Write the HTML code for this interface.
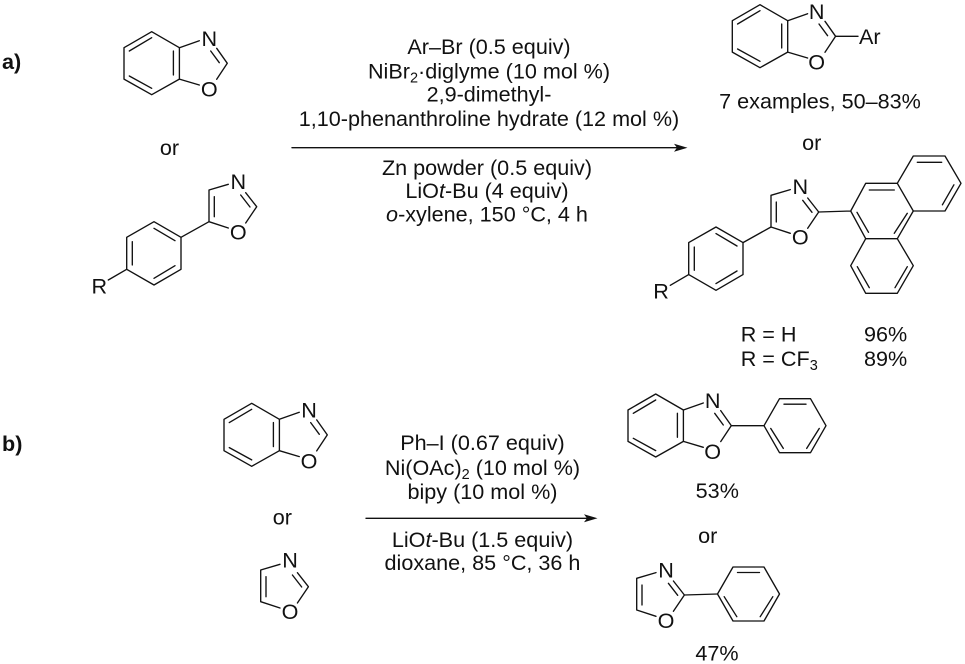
<!DOCTYPE html>
<html><head><meta charset="utf-8"><style>
html,body{margin:0;padding:0;background:#fff}
svg{display:block}
text{font-family:"Liberation Sans",sans-serif;font-size:21.6px;fill:#111}
.m{text-anchor:middle}
.s{font-size:14.5px}
.b{stroke:#111;stroke-width:1.35;fill:none;stroke-linecap:round;stroke-linejoin:round}
</style></head><body>
<svg width="965" height="664" viewBox="0 0 965 664" xmlns="http://www.w3.org/2000/svg">
<defs>
<g id="bx" class="b">
<path d="M0 0L27.7 16L27.7 47.4L0 63L-27.7 47.4L-27.7 16Z"/>
<path d="M-22.4 19.3L0 6M-22.4 44.3L0 56.6M21.7 19.3L21.7 43.3"/>
<path d="M27.7 16L47.6 9M27.7 47.4L47.6 53.3M65 16.6L75.6 31.6L65 47.6M59 19.3L67.6 31"/>
</g>
<g id="ox" class="b">
<path d="M228.3 184.3L209 190L209 221.7L228.3 228M245.7 192.7L256.7 206.7L245.7 223M214.3 196.7L214.3 216.7M240.7 195L250 207"/>
</g>
<g id="ph" class="b">
<path d="M-31 0L-15.5 -27L15.5 -27L31 0L15.5 27L-15.5 27Z"/>
<path d="M-11 -21.5L11 -21.5M-24.3 2.7L-11.7 22.7M24.3 2.7L11.7 22.7"/>
</g>
<g id="rph" class="b">
<path d="M154 221.7L181 237.3L181 269.3L154 285L126.7 269.3L126.7 237.3Z"/>
<path d="M154 228.3L175 240.7M132.3 241.7L132.3 265M154 278.3L175 265.7"/>
<path d="M181 237.3L209 221.7M126.7 269.3L108.3 280"/>
</g>
</defs>

<!-- a left -->
<use href="#bx" x="151.7" y="31.7"/>
<text class="m" x="209.3" y="46">N</text>
<text class="m" x="209.3" y="96.5">O</text>
<text class="m" x="169.5" y="155">or</text>
<use href="#ox"/>
<use href="#rph"/>
<text class="m" x="238.3" y="189">N</text>
<text class="m" x="238.3" y="239.5">O</text>
<text class="m" x="99.3" y="293.5">R</text>

<!-- a right -->
<use href="#bx" x="760" y="4.7"/>
<path class="b" d="M835.6 36.3L858 36.3"/>
<text class="m" x="816.7" y="19">N</text>
<text class="m" x="816.7" y="69.5">O</text>
<text x="859" y="44">Ar</text>
<text class="m" x="820" y="108.3">7 examples, 50–83%</text>
<text class="m" x="811.7" y="150">or</text>
<use href="#ox" x="562" y="5.3"/>
<use href="#rph" x="562" y="5.3"/>
<text class="m" x="800.3" y="194">N</text>
<text class="m" x="800.3" y="244.5">O</text>
<text class="m" x="661" y="298.5">R</text>
<g class="b">
<path d="M818.7 212L850.7 211L865.7 183.3L897.3 183.3L913.3 211L897.3 238.7L865.7 238.7L850.7 211"/>
<path d="M897.3 183.3L913.3 156L945 156L961 183.3L945 211L913.3 211"/>
<path d="M865.7 238.7L850.7 265.7L865.7 293.3L897.3 293.3L913.3 265.7L897.3 238.7"/>
<path d="M869.3 190L894.3 190M917.3 162.3L941.7 162.3M953.9 184.8L942.4 204.8M857 212.3L868.5 232.3M907.3 213.3L894.3 233.3M857.3 266.7L869.3 287.7M907.3 266.7L895 287.7"/>
</g>
<text x="740.7" y="341.7">R = H</text>
<text x="864" y="341.7">96%</text>
<text x="740.7" y="366">R = CF<tspan class="s" dy="4">3</tspan></text>
<text x="864" y="366">89%</text>

<!-- a conditions -->
<text class="m" x="489" y="54">Ar–Br (0.5 equiv)</text>
<text class="m" x="489" y="78.3">NiBr<tspan class="s" dy="4">2</tspan><tspan dy="-4">·diglyme (10 mol %)</tspan></text>
<text class="m" x="489" y="101.7">2,9-dimethyl-</text>
<text class="m" x="489" y="126">1,10-phenanthroline hydrate (12 mol %)</text>
<path class="b" d="M292 147.7L680 147.7"/>
<path d="M687.5 147.7L674 143.7L677 147.7L674 151.7Z" fill="#111"/>
<text class="m" x="487" y="175">Zn powder (0.5 equiv)</text>
<text class="m" x="487" y="198">LiO<tspan font-style="italic">t</tspan>-Bu (4 equiv)</text>
<text class="m" x="487" y="221.7"><tspan font-style="italic">o</tspan>-xylene, 150 °C, 4 h</text>
<text x="2" y="69" style="font-weight:bold">a)</text>

<!-- b left -->
<text x="2" y="451" style="font-weight:bold">b)</text>
<use href="#bx" x="251.7" y="403.3"/>
<text class="m" x="309" y="417.5">N</text>
<text class="m" x="309" y="468.5">O</text>
<text class="m" x="282.3" y="524.3">or</text>
<use href="#ox" x="51.7" y="380"/>
<text class="m" x="290" y="567.5">N</text>
<text class="m" x="290" y="619">O</text>

<!-- b conditions -->
<text class="m" x="482.5" y="450">Ph–I (0.67 equiv)</text>
<text class="m" x="482.5" y="475">Ni(OAc)<tspan class="s" dy="4">2</tspan><tspan dy="-4"> (10 mol %)</tspan></text>
<text class="m" x="482.5" y="499">bipy (10 mol %)</text>
<path class="b" d="M366 518.3L590 518.3"/>
<path d="M597.5 518.3L584 514.3L587 518.3L584 522.3Z" fill="#111"/>
<text class="m" x="482.5" y="547">LiO<tspan font-style="italic">t</tspan>-Bu (1.5 equiv)</text>
<text class="m" x="482.5" y="570">dioxane, 85 °C, 36 h</text>

<!-- b right -->
<use href="#bx" x="655.7" y="394"/>
<path class="b" d="M731.3 425.7L764 425.7"/>
<use href="#ph" x="795" y="425.7"/>
<text class="m" x="712.7" y="408.2">N</text>
<text class="m" x="712.7" y="459">O</text>
<text class="m" x="717.3" y="498">53%</text>
<text class="m" x="707.7" y="543">or</text>
<use href="#ox" x="427.7" y="388.3"/>
<path class="b" d="M684.4 595L717.3 594"/>
<use href="#ph" x="748.5" y="594"/>
<text class="m" x="666" y="577.5">N</text>
<text class="m" x="666" y="628">O</text>
<text class="m" x="717" y="660.7">47%</text>
</svg>
</body></html>
